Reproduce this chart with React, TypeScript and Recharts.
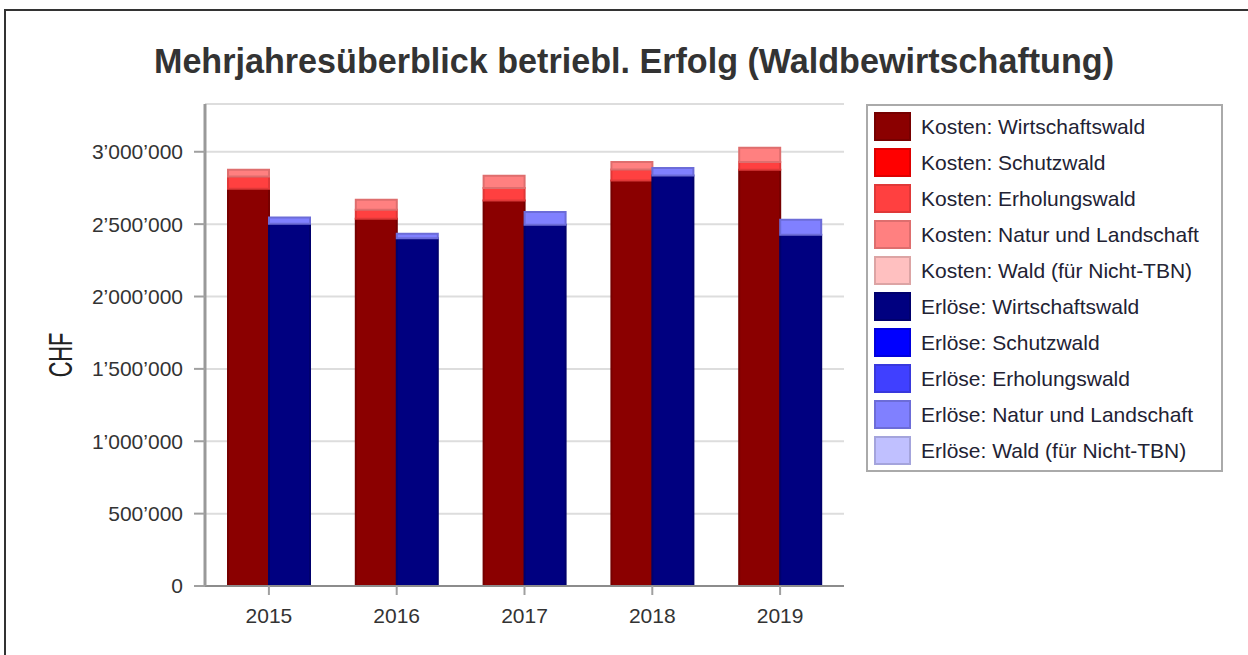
import React from 'react';
import { BarChart, Bar, XAxis, YAxis, CartesianGrid } from 'recharts';

const years = ['2015', '2016', '2017', '2018', '2019'];
const kostenWirtschaftswald = [2744000, 2537000, 2663000, 2802000, 2876000];
const kostenSchutzwald = [0, 0, 0, 0, 0];
const kostenErholungswald = [85000, 62000, 86000, 76000, 53000];
const kostenNatur = [46000, 69000, 85000, 51000, 99000];
const kostenWald = [0, 0, 0, 0, 0];
const erloeseWirtschaftswald = [2502000, 2402000, 2495000, 2836000, 2426000];
const erloeseSchutzwald = [0, 0, 0, 0, 0];
const erloeseErholungswald = [0, 0, 0, 0, 0];
const erloeseNatur = [43000, 32000, 88000, 51000, 104000];
const erloeseWald = [0, 0, 0, 0, 0];
const yTicks = [0, 500000, 1000000, 1500000, 2000000, 2500000, 3000000];

const series = [
  { key: 'kW', name: 'Kosten: Wirtschaftswald', values: kostenWirtschaftswald, fill: '#8b0000', stroke: '#760000', stack: 'k' },
  { key: 'kS', name: 'Kosten: Schutzwald', values: kostenSchutzwald, fill: '#ff0000', stroke: '#dd0000', stack: 'k' },
  { key: 'kE', name: 'Kosten: Erholungswald', values: kostenErholungswald, fill: '#ff4040', stroke: '#e03838', stack: 'k' },
  { key: 'kN', name: 'Kosten: Natur und Landschaft', values: kostenNatur, fill: '#ff8080', stroke: '#de6e6e', stack: 'k' },
  { key: 'kT', name: 'Kosten: Wald (für Nicht-TBN)', values: kostenWald, fill: '#ffc0c0', stroke: '#dca4a4', stack: 'k' },
  { key: 'eW', name: 'Erlöse: Wirtschaftswald', values: erloeseWirtschaftswald, fill: '#000080', stroke: '#00006c', stack: 'e' },
  { key: 'eS', name: 'Erlöse: Schutzwald', values: erloeseSchutzwald, fill: '#0000ff', stroke: '#0000dd', stack: 'e' },
  { key: 'eE', name: 'Erlöse: Erholungswald', values: erloeseErholungswald, fill: '#4040ff', stroke: '#3838dd', stack: 'e' },
  { key: 'eN', name: 'Erlöse: Natur und Landschaft', values: erloeseNatur, fill: '#8080ff', stroke: '#6c6cd8', stack: 'e' },
  { key: 'eT', name: 'Erlöse: Wald (für Nicht-TBN)', values: erloeseWald, fill: '#c0c0ff', stroke: '#a4a4dc', stack: 'e' },
];

const data = years.map((year, i) => {
  const row: Record<string, string | number> = { year };
  series.forEach((s) => {
    row[s.key] = s.values[i];
  });
  return row;
});

const fmt = (v: number) => String(v).replace(/\B(?=(\d{3})+(?!\d))/g, '\u2019');

const FONT = '"Liberation Sans", Arial, sans-serif';

export default function App() {
  return (
    <div
      style={{
        position: 'absolute',
        left: 0,
        top: 0,
        width: 1248,
        height: 655,
        background: '#fff',
        fontFamily: FONT,
        overflow: 'hidden',
      }}
    >
      <div style={{ position: 'absolute', left: 4, top: 9, width: 1244, height: 2, background: '#333' }} />
      <div style={{ position: 'absolute', left: 4, top: 9, width: 2, height: 646, background: '#333' }} />
      <div
        style={{
          position: 'absolute',
          left: 0,
          width: 1268,
          top: 43,
          textAlign: 'center',
          fontSize: 35,
          lineHeight: '35px',
          fontWeight: 'bold',
          color: '#333',
          transform: 'scaleX(0.975)',
          transformOrigin: '634px 50%',
          whiteSpace: 'nowrap',
        }}
      >
        Mehrjahresüberblick betriebl. Erfolg (Waldbewirtschaftung)
      </div>
      <div
        style={{
          position: 'absolute',
          left: 60 - 50,
          top: 355 - 20,
          width: 100,
          height: 40,
          lineHeight: '40px',
          textAlign: 'center',
          fontSize: 34,
          color: '#222',
          transform: 'rotate(-90deg) scaleX(0.64)',
        }}
      >
        CHF
      </div>
      <div style={{ position: 'absolute', left: 0, top: 0 }}>
        <BarChart
          width={1248}
          height={655}
          data={data}
          barSize={41}
          barGap={0}
          margin={{ top: 104, right: 404, left: 105, bottom: 29 }}
        >
          <CartesianGrid horizontal vertical={false} stroke="#dddddd" strokeWidth={2} />
          <XAxis
            dataKey="year"
            height={40}
            tickSize={9}
            tickMargin={13}
            axisLine={{ stroke: '#8c8c8c', strokeWidth: 2 }}
            tickLine={{ stroke: '#a0a0a0', strokeWidth: 2 }}
            tick={{ fill: '#333', fontSize: 21 }}
          />
          <XAxis
            xAxisId="top"
            dataKey="year"
            orientation="top"
            height={0}
            tick={false}
            tickLine={false}
            axisLine={{ stroke: '#dddddd', strokeWidth: 2 }}
          />
          <YAxis
            width={100}
            domain={[0, 3330000]}
            ticks={yTicks}
            tickFormatter={fmt}
            tickSize={11}
            tickMargin={11}
            interval={0}
            axisLine={{ stroke: '#999', strokeWidth: 3 }}
            tickLine={{ stroke: '#a0a0a0', strokeWidth: 2 }}
            tick={{ fill: '#333', fontSize: 21 }}
          />
          <YAxis
            yAxisId="right"
            orientation="right"
            width={0}
            domain={[0, 3330000]}
            tick={false}
            tickLine={false}
            axisLine={{ stroke: '#dddddd', strokeWidth: 2 }}
          />
          {series.map((s) => (
            <Bar
              key={s.key}
              dataKey={s.key}
              name={s.name}
              stackId={s.stack}
              fill={s.fill}
              stroke={s.stroke}
              strokeWidth={2}
              isAnimationActive={false}
            />
          ))}
        </BarChart>
      </div>
      <div
        style={{
          position: 'absolute',
          left: 866,
          top: 104,
          width: 353,
          height: 364,
          border: '2px solid #aaa',
          background: '#fff',
        }}
      >
        {series.map((s, i) => (
          <div key={s.key} style={{ position: 'absolute', left: 6, top: 6 + i * 36, height: 29, display: 'flex', alignItems: 'center' }}>
            <div
              style={{
                width: 33,
                height: 25,
                background: s.fill,
                border: `2px solid ${s.stroke}`,
              }}
            />
            <div style={{ marginLeft: 10, fontSize: 21, color: '#222233', whiteSpace: 'nowrap' }}>{s.name}</div>
          </div>
        ))}
      </div>
    </div>
  );
}
